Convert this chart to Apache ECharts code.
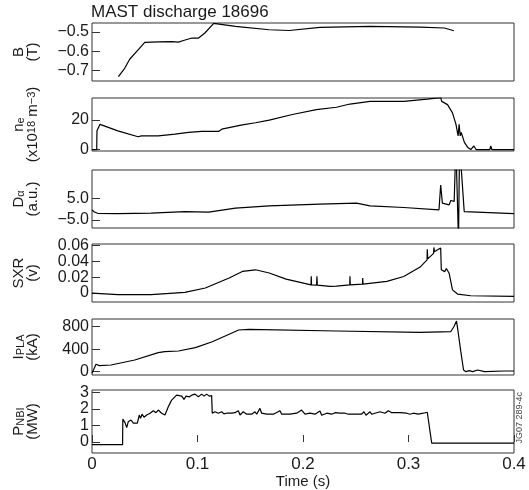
<!DOCTYPE html>
<html><head><meta charset="utf-8">
<script src="https://cdn.jsdelivr.net/npm/echarts@6/dist/echarts.min.js"></script>
<style>html,body{margin:0;padding:0;background:#fff}#c{width:529px;height:490px}</style>
</head><body><div id="c"></div>
<script>
// ---------- data ----------
const timeTicks = [0, 0.1, 0.2, 0.3, 0.4];

const bTime = [0.025, 0.031, 0.0357, 0.0437, 0.050, 0.063, 0.0755, 0.082, 0.0867, 0.0947, 0.101, 0.107, 0.1154, 0.136, 0.168, 0.187, 0.216, 0.2636, 0.311, 0.334, 0.343];
const bVal  = [-0.731, -0.688, -0.641, -0.592, -0.554, -0.551, -0.550, -0.552, -0.544, -0.531, -0.531, -0.505, -0.455, -0.471, -0.488, -0.492, -0.476, -0.471, -0.474, -0.479, -0.493];
const bTicks = [-0.7, -0.6, -0.5];

const neTime = [0, 0.0045, 0.0047, 0.0076, 0.0245, 0.0437, 0.0469, 0.0484, 0.0628, 0.0787, 0.0915, 0.104, 0.120, 0.123, 0.1425, 0.155, 0.168, 0.190, 0.2126, 0.2317, 0.2445, 0.2636, 0.2955, 0.3178, 0.3305, 0.3315, 0.337, 0.3417, 0.345, 0.347, 0.348, 0.349, 0.350, 0.353, 0.356, 0.359, 0.362, 0.364, 0.377, 0.378, 0.379, 0.4];
const neVal  = [0, 0, 12.7, 17.1, 12.7, 8.7, 9.3, 8.0, 9.3, 10.4, 11.6, 12.3, 12.3, 13.8, 16.7, 18.2, 20, 23.8, 27.1, 28.7, 30.9, 32.7, 32.7, 34.2, 35.2, 32.7, 30.5, 24.9, 17.1, 9.3, 17.1, 9.3, 11.6, 4.9, 1.6, 0, 2.4, 0, 0, 2.4, 0, 0];
const neTicks = [0, 20];

const daTime = [0, 0.0022, 0.0054, 0.0245, 0.056, 0.088, 0.1106, 0.136, 0.168, 0.2158, 0.2508, 0.2636, 0.2955, 0.3289, 0.3305, 0.3321, 0.3337, 0.3385, 0.3401, 0.3433, 0.3449, 0.3465, 0.3474, 0.3484, 0.3496, 0.3528, 0.4];
const daVal  = [-0.4, -1.4, -2.0, -2.2, -1.9, -1.2, -1.5, 0.4, 1.45, 2.2, 2.7, 1.45, 0.67, -0.39, 11.1, 2.7, 1.9, 1.9, 3.9, 3.5, 30, 30, -15, 30, 30, -1.2, -2.2];
const daTicks = [-5, 5];

const sxrTime = [0, 0.0245, 0.056, 0.088, 0.1074, 0.13, 0.1425, 0.155, 0.168, 0.184, 0.2076, 0.2078, 0.2081, 0.2129, 0.2132, 0.2136, 0.2253, 0.2317, 0.2443, 0.2445, 0.2448, 0.2564, 0.2566, 0.2569, 0.2795, 0.2955, 0.311, 0.3176, 0.3178, 0.3182, 0.3238, 0.3241, 0.3246, 0.3275, 0.3305, 0.3311, 0.3327, 0.3343, 0.3359, 0.3385, 0.3417, 0.3465, 0.359, 0.4];
const sxrVal  = [0.0, -0.002, -0.002, 0.0008, 0.0063, 0.0189, 0.0272, 0.0293, 0.0252, 0.0176, 0.0102, 0.021, 0.0102, 0.0100, 0.021, 0.0099, 0.0083, 0.0087, 0.0102, 0.021, 0.0104, 0.0112, 0.019, 0.0113, 0.0146, 0.0209, 0.0327, 0.0419, 0.0553, 0.043, 0.05, 0.0575, 0.052, 0.0545, 0.0566, 0.0293, 0.031, 0.027, 0.031, 0.025, 0.004, -0.0013, -0.0034, -0.0043];
const sxrTicks = [0, 0.02, 0.04, 0.06];

const ipTime = [0, 0.0038, 0.007, 0.018, 0.0405, 0.0628, 0.069, 0.082, 0.098, 0.114, 0.13, 0.139, 0.149, 0.2317, 0.311, 0.34, 0.343, 0.3455, 0.347, 0.3496, 0.3522, 0.3544, 0.3576, 0.3608, 0.3656, 0.372, 0.391, 0.4];
const ipVal  = [-30, 131, 107, 119, 208, 338, 356, 368, 427, 533, 665, 741, 754, 724, 700, 711, 800, 901, 711, 356, 30, 0, 18, 0, 30, 0, 12, 12];
const ipTicks = [0, 400, 800];

const nbiTime = [0, 0.029, 0.0292, 0.0313, 0.0329, 0.0344, 0.037, 0.0392, 0.043, 0.0448, 0.046, 0.0474, 0.0493, 0.0518, 0.055, 0.0581, 0.0607, 0.0628, 0.066, 0.0692, 0.0723, 0.0755, 0.0802, 0.0818, 0.085, 0.0872, 0.0891, 0.0923, 0.0945, 0.0976, 0.1008, 0.104, 0.1062, 0.1087, 0.1112, 0.1134, 0.114, 0.1166, 0.1197, 0.1229, 0.1251, 0.1275, 0.1324, 0.1355, 0.1387, 0.1403, 0.1434, 0.1466, 0.1513, 0.1545, 0.1561, 0.1592, 0.1608, 0.1655, 0.1719, 0.1782, 0.1798, 0.1877, 0.194, 0.1987, 0.2019, 0.2066, 0.2114, 0.2161, 0.2177, 0.2225, 0.2272, 0.2304, 0.2351, 0.2398, 0.243, 0.2509, 0.2556, 0.2578, 0.2597, 0.2635, 0.2651, 0.2682, 0.273, 0.2777, 0.2809, 0.2841, 0.2919, 0.2983, 0.3014, 0.3046, 0.3093, 0.314, 0.3178, 0.3188, 0.322, 0.4];
const nbiVal  = [-0.15, -0.15, 1.38, 1.17, 0.87, 1.23, 1.33, 1.14, 1.14, 1.63, 1.43, 1.68, 1.5, 1.63, 1.74, 1.89, 1.77, 1.93, 1.74, 1.63, 2.13, 2.53, 2.83, 2.73, 2.77, 2.57, 2.77, 2.73, 2.83, 2.89, 2.73, 2.89, 2.77, 2.89, 2.77, 2.8, 1.74, 1.83, 1.74, 1.83, 1.7, 1.74, 1.74, 1.77, 1.89, 1.63, 1.83, 1.68, 1.68, 1.83, 1.68, 2.03, 1.74, 1.68, 1.68, 1.89, 1.68, 1.68, 1.74, 1.93, 1.68, 1.74, 1.68, 1.87, 1.62, 1.74, 1.68, 1.77, 1.74, 1.74, 1.68, 1.68, 1.68, 1.83, 1.62, 1.83, 1.68, 1.74, 1.83, 1.74, 1.89, 1.77, 1.77, 1.74, 1.68, 1.74, 1.68, 1.74, 1.8, 1.78, -0.06, -0.06];
const nbiTicks = [0, 1, 2, 3];

// ---------- layout ----------
const FONT = "'Liberation Sans', Arial, Helvetica, sans-serif";
const fmtMinus = (s) => s.replace('-', '\u2212');
const panels = [
  {t: bTime, v: bVal, ticks: bTicks, top: 23, h: 58, min: -0.754, max: -0.453,
   fmt: v => fmtMinus(v.toFixed(1)), name: 'B\n(T)'},
  {t: neTime, v: neVal, ticks: neTicks, top: 98, h: 53, min: -1, max: 35,
   fmt: v => String(v), name: 'n{sub|e}\n(x10{sup|18} m{sup|\u22123})'},
  {t: daTime, v: daVal, ticks: daTicks, top: 170, h: 58, min: -8.8, max: 18,
   fmt: v => fmtMinus(v.toFixed(1)), name: 'D{sub|\u03b1}\n(a.u.)'},
  {t: sxrTime, v: sxrVal, ticks: sxrTicks, top: 244, h: 58, min: -0.0113, max: 0.0618,
   fmt: v => v === 0 ? '0' : v.toFixed(2), name: 'SXR\n(v)'},
  {t: ipTime, v: ipVal, ticks: ipTicks, top: 319, h: 56, min: -59, max: 937,
   fmt: v => String(v), name: 'I{sub|PLA}\n(kA)'},
  {t: nbiTime, v: nbiVal, ticks: nbiTicks, top: 390, h: 63, min: -0.66, max: 3.14,
   fmt: v => String(v), name: 'P{sub|NBI}\n(MW)'}
];

const grids = [], xAxes = [], yAxes = [], series = [];
panels.forEach((p, i) => {
  const last = i === panels.length - 1;
  grids.push({left: 92, width: 422, top: p.top, height: p.h, show: true,
    borderColor: '#333', borderWidth: 1, backgroundColor: 'transparent'});
  xAxes.push({
    gridIndex: i, type: 'value', min: 0, max: 0.4, interval: 0.1,
    axisLine: {show: false}, splitLine: {show: false},
    axisTick: {show: last, inside: true, length: 7, lineStyle: {color: '#333'}},
    axisLabel: {show: last, fontSize: 17, color: '#1a1a1a', fontFamily: FONT, margin: 3,
      formatter: v => String(+v.toFixed(1))},
    name: last ? 'Time (s)' : '', nameLocation: 'middle', nameGap: 20,
    nameTextStyle: {fontSize: 15, color: '#1a1a1a', fontFamily: FONT}
  });
  yAxes.push({
    gridIndex: i, type: 'value', min: p.min, max: p.max,
    axisLine: {show: false}, splitLine: {show: false},
    axisTick: {inside: true, length: 8, customValues: p.ticks, lineStyle: {color: '#333'}},
    axisLabel: {customValues: p.ticks, formatter: p.fmt, fontSize: 16, color: '#1a1a1a',
      fontFamily: FONT, margin: 3},
    name: p.name, nameLocation: 'middle', nameRotate: 90, nameGap: 52,
    nameTextStyle: {fontSize: 15, color: '#1a1a1a', fontFamily: FONT, lineHeight: 14, align: 'center',
      rich: {
        sub: {fontSize: 11, lineHeight: 5, verticalAlign: 'bottom', fontFamily: FONT, color: '#1a1a1a'},
        sup: {fontSize: 11, lineHeight: 5, verticalAlign: 'top', fontFamily: FONT, color: '#1a1a1a'}
      }}
  });
  series.push({
    type: 'line', xAxisIndex: i, yAxisIndex: i, showSymbol: false, symbol: 'none',
    clip: true, animation: false,
    lineStyle: {color: '#000', width: 1.2},
    data: p.t.map((t, k) => [t, p.v[k]])
  });
});

const chart = echarts.init(document.getElementById('c'), null, {renderer: 'canvas'});
chart.setOption({
  animation: false,
  backgroundColor: '#fff',
  title: {text: 'MAST discharge 18696', left: 91, top: 4, padding: 0,
    textStyle: {fontSize: 17, fontWeight: 'normal', color: '#1a1a1a', fontFamily: FONT}},
  grid: grids, xAxis: xAxes, yAxis: yAxes, series: series,
  graphic: [{type: 'text', left: 515, top: 392, rotation: Math.PI / 2,
    style: {text: 'JG07 289-4c', fontSize: 9, fill: '#444', fontFamily: FONT}}]
});
</script></body></html>
